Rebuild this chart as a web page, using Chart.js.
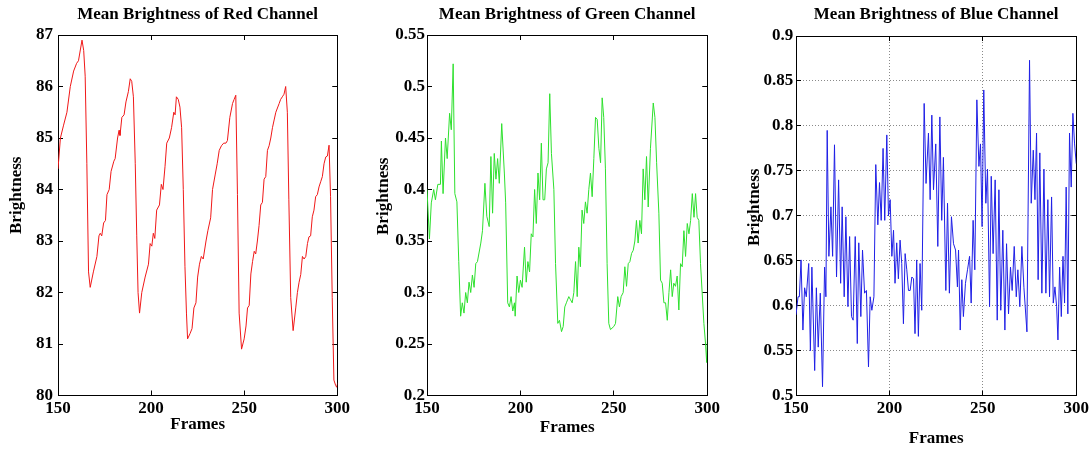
<!DOCTYPE html>
<html>
<head>
<meta charset="utf-8">
<script src="https://cdn.jsdelivr.net/npm/chart.js@4/dist/chart.umd.min.js"></script>
<style>
html,body{margin:0;padding:0;background:#fff;}
body{width:1090px;height:452px;position:relative;overflow:hidden;}
.box{position:absolute;top:0;height:452px;}
</style>
</head>
<body>
<div class="box" style="left:0px;width:358px"><canvas id="cRed"></canvas></div>
<div class="box" style="left:365px;width:363px"><canvas id="cGreen"></canvas></div>
<div class="box" style="left:735px;width:362px"><canvas id="cBlue"></canvas></div>
<script>
// ---- data ----
const xTicks = [150, 200, 250, 300];
const redYTicks = [80, 81, 82, 83, 84, 85, 86, 87];
const greenYTicks = [0.2, 0.25, 0.3, 0.35, 0.4, 0.45, 0.5, 0.55];
const blueYTicks = [0.5, 0.55, 0.6, 0.65, 0.7, 0.75, 0.8, 0.85, 0.9];

const redFrames = [150,151.3,153,154.8,156.6,158.4,160,161,162.9,163.8,164.6,165.5,166.4,167.3,169,170.9,172,172.7,173.5,174.5,175.5,176.3,177.5,178.5,180,180.7,182,182.8,183.3,184.3,185.5,186.5,187.8,188.8,189.6,190.5,191.5,192.3,193,193.8,195,196.8,198.6,199.5,200.4,201.2,202,203,204.5,205.5,206.4,207.5,208.4,209.8,211,212.2,212.9,213.6,214.6,215.5,216.4,217.3,218.2,219,219.6,220.9,222,223,224.1,225,226,227,228,229.5,230.5,232,233,234.5,235.5,236.6,237.8,239,240.2,241,242.3,243.75,244.6,245.5,246.4,247.3,248.6,250,251,251.8,252.7,253.6,254.5,255.4,256.2,257.1,258,258.9,259.8,260.7,261.6,262.5,263.4,264.3,265.2,266.1,267,268.8,269.6,270.5,271.4,272.3,273.2,274,275,276.3,277.7,278.6,279.5,280.4,281.3,282.2,283.1,284,284.8,285.7,286.6,287.5,288.4,289.3,290.2,291.1,292,292.9,293.8,294.7,295.6,296.4,297.3,298.2,299.1,299.7,300.3];
const redValues = [84.4,85.0,85.25,85.5,86.0,86.3,86.45,86.5,86.9,86.7,86.2,84.5,82.4,82.1,82.4,82.7,83.1,83.15,83.1,83.35,83.4,83.9,84.0,84.35,84.55,84.6,85.0,85.15,85.05,85.4,85.45,85.7,85.9,86.15,86.1,85.8,84.5,83.1,82.0,81.6,82.0,82.3,82.55,82.95,82.9,83.15,83.05,83.6,83.7,84.1,84.0,84.45,84.9,85.0,85.2,85.5,85.45,85.8,85.75,85.6,85.2,84.0,82.5,81.6,81.1,81.2,81.3,81.7,81.8,82.3,82.55,82.7,82.65,83.0,83.2,83.45,84.0,84.3,84.5,84.76,84.85,84.9,84.9,84.95,85.4,85.67,85.75,85.83,83.9,81.6,80.9,81.1,81.35,81.7,81.75,82.36,82.6,82.8,82.75,83.0,83.3,83.7,83.75,84.2,84.25,84.76,84.85,85.0,85.2,85.35,85.5,85.67,85.75,85.8,85.85,86.0,85.5,83.8,81.9,81.26,81.7,82.0,82.2,82.35,82.7,82.65,82.7,82.95,83.08,83.1,83.47,83.6,83.86,83.9,84.05,84.15,84.25,84.5,84.63,84.65,84.86,83.86,81.9,80.3,80.2,80.16,80.25];

const greenFrames = [150,151.3,152.3,153.6,154.5,155.8,157.2,157.7,158.6,159.9,160.8,162.1,163,164,164.9,166,167,168,168.9,169.8,170.7,171.6,172.5,173.4,174.3,175.2,176.1,177,178.8,179.7,181,182,183.3,184.2,185.1,186,186.9,187.8,188.7,190,191.4,192.1,193.2,194.1,195,195.9,196.8,197.2,198.2,199.1,200,200.9,202.2,203.1,204,204.9,205.8,206.7,207.6,208.5,209.4,210.3,211.2,212.1,213,213.9,214.8,215.7,216.6,217.9,218.8,220,220.9,222,222.9,223.75,224.6,225.9,226.8,227.7,228.6,229.5,230.4,231.25,232.1,233,233.9,234.8,235.7,236.6,237.5,238.4,239.3,240.2,241.1,242,242.9,243.75,244.6,245.5,246.4,247.3,248.2,250,250.9,252.1,253,253.9,255,255.9,256.8,257.7,258.6,259.5,260.4,261.25,262.1,263,263.9,264.8,265.7,266.6,267.5,268.4,269.6,271.1,272,272.9,274.1,275,275.9,276.8,277.7,278.6,279.5,280.4,281.25,282.1,283,283.9,284.8,285.7,286.6,287.5,288.4,289.3,290.2,291.1,292,292.9,293.75,294.6,295.5,296.4,298.2,299.1,299.7,300.4];
const greenValues = [0.40,0.352,0.387,0.40,0.39,0.405,0.405,0.447,0.396,0.45,0.43,0.474,0.458,0.522,0.396,0.388,0.33,0.277,0.29,0.28,0.30,0.29,0.31,0.30,0.317,0.305,0.328,0.33,0.348,0.36,0.406,0.374,0.364,0.432,0.377,0.435,0.41,0.43,0.406,0.464,0.416,0.387,0.29,0.286,0.296,0.282,0.29,0.277,0.316,0.30,0.312,0.305,0.344,0.31,0.33,0.32,0.357,0.354,0.40,0.367,0.416,0.39,0.445,0.39,0.39,0.42,0.426,0.493,0.435,0.40,0.328,0.27,0.273,0.262,0.267,0.286,0.29,0.296,0.293,0.29,0.30,0.33,0.296,0.344,0.325,0.38,0.367,0.388,0.377,0.40,0.416,0.393,0.43,0.47,0.468,0.44,0.426,0.489,0.47,0.42,0.328,0.27,0.264,0.267,0.27,0.296,0.286,0.296,0.30,0.325,0.306,0.328,0.33,0.338,0.341,0.35,0.37,0.348,0.37,0.357,0.42,0.39,0.432,0.383,0.44,0.484,0.47,0.426,0.377,0.312,0.309,0.29,0.29,0.273,0.30,0.322,0.296,0.309,0.306,0.316,0.283,0.328,0.325,0.36,0.335,0.367,0.357,0.37,0.396,0.373,0.396,0.373,0.37,0.328,0.27,0.25,0.232,0.27];

const blueFrames = [150,151.1,151.8,152.7,153.7,154.6,155.5,156.8,157.7,158.5,160,160.9,161.9,163,164.2,165.3,166,166.7,167.6,168.7,169.6,170.6,171.7,172.8,173.9,174.7,175.8,176.7,177.8,178.7,179.7,180.6,181.7,182.8,183.6,184.7,185.6,186.7,187.7,188.8,189.7,190.6,191.7,192.7,193.8,194.7,195.6,196.6,197.5,198.6,199.5,200.4,201.3,202.2,203,203.9,204.8,205.7,206.6,207.5,208.4,209.3,210.2,211.1,212,212.9,213.7,214.6,215.5,216.4,217.3,218.6,219.6,220.9,221.8,222.7,223.6,224.8,225.9,227,228,228.9,230.2,231.1,232.1,233.2,234.3,235.4,236.4,237,237.9,238.75,239.6,240.7,241.8,242.9,243.75,244.8,245.7,246.8,247.9,248.75,249.6,250.5,251.6,252.5,253.6,254.5,255.5,256.6,257.7,258.6,259.6,260.7,261.8,262.7,263.75,264.8,265.7,266.8,267.9,268.75,269.8,270.9,272,273.6,275,275.9,277,277.9,278.75,279.6,280.5,281.6,282.7,283.75,284.8,285.7,286.8,287.7,288.6,289.5,290.2,291.1,292,292.9,293.75,294.6,295.5,296.4,297.3,298.2,299.1,300];
const blueValues = [0.59,0.61,0.61,0.651,0.573,0.62,0.61,0.647,0.55,0.643,0.528,0.62,0.554,0.614,0.51,0.643,0.61,0.795,0.655,0.71,0.655,0.779,0.632,0.74,0.625,0.71,0.61,0.699,0.599,0.677,0.588,0.584,0.677,0.558,0.67,0.588,0.662,0.614,0.617,0.532,0.61,0.595,0.61,0.757,0.69,0.737,0.695,0.775,0.695,0.79,0.70,0.718,0.655,0.684,0.625,0.67,0.63,0.673,0.647,0.58,0.658,0.64,0.617,0.617,0.632,0.63,0.569,0.651,0.566,0.647,0.595,0.825,0.736,0.792,0.718,0.812,0.729,0.78,0.666,0.81,0.695,0.765,0.617,0.714,0.614,0.699,0.669,0.662,0.621,0.662,0.573,0.629,0.588,0.625,0.64,0.655,0.603,0.695,0.64,0.829,0.755,0.78,0.688,0.84,0.714,0.752,0.599,0.744,0.658,0.74,0.584,0.729,0.595,0.684,0.573,0.669,0.591,0.643,0.617,0.666,0.61,0.64,0.599,0.666,0.62,0.571,0.873,0.714,0.773,0.718,0.792,0.629,0.77,0.614,0.752,0.614,0.718,0.61,0.721,0.603,0.621,0.599,0.562,0.643,0.588,0.655,0.603,0.732,0.591,0.792,0.732,0.814,0.78,0.758];

// ---- drawing ----
const FONT = "'Liberation Serif', 'Times New Roman', serif";
const tickFont = {family: FONT, size: 17, weight: 'bold', lineHeight: 1.2};
const titleFont = {family: FONT, size: 17, weight: 'bold', lineHeight: 1.2};

function setTicks(arr) { return s => { s.ticks = arr.map(v => ({value: v})); }; }
function fmt(v) { return String(Math.round(v * 100) / 100); }

// y-axis title, placed like the original (slightly above the centre of the axis)
const yLabelPlugin = {
  id: 'yLabel',
  afterDraw(chart, args, opts) {
    const ca = chart.chartArea, ctx = chart.ctx;
    ctx.save();
    ctx.translate(opts.x, (ca.top + ca.bottom) / 2 + opts.dy);
    ctx.rotate(-Math.PI / 2);
    ctx.font = 'bold 17px ' + FONT;
    ctx.fillStyle = '#000';
    ctx.textAlign = 'center';
    ctx.textBaseline = 'middle';
    ctx.fillText(opts.text, 0, 0);
    ctx.restore();
  }
};

function makeChart(id, o) {
  const edgeGrid = {display: true, drawOnChartArea: false, drawTicks: true, tickLength: -5, tickColor: '#000', tickWidth: 1};
  const mainGrid = o.grid
    ? {display: true, drawOnChartArea: true, drawTicks: true, tickLength: -5, color: '#8a8a8a', lineWidth: 1, tickColor: '#000', tickWidth: 1}
    : edgeGrid;
  const border = {display: true, color: '#000', width: 1, dash: o.grid ? [1, 2] : []};
  new Chart(document.getElementById(id), {
    type: 'line',
    data: {
      datasets: [{
        data: o.frames.map((f, i) => ({x: f, y: o.values[i]})),
        borderColor: o.color, borderWidth: 1, pointRadius: 0, tension: 0, fill: false
      }]
    },
    plugins: [yLabelPlugin],
    options: {
      responsive: true, maintainAspectRatio: false, animation: false, devicePixelRatio: 1,
      layout: {padding: 0},
      plugins: {
        legend: {display: false}, tooltip: {enabled: false},
        title: {display: true, text: o.title, fullSize: false, color: '#000', font: titleFont,
                padding: {top: 4.8, bottom: o.titleBottom}},
        yLabel: {text: 'Brightness', x: o.yTitleX, dy: o.yTitleDy}
      },
      scales: {
        x: {
          type: 'linear', position: 'bottom', min: 150, max: 300,
          afterBuildTicks: setTicks(xTicks), afterFit: s => { s.height = o.xH; },
          ticks: {color: '#000', font: tickFont, padding: 8, maxRotation: 0, autoSkip: false, callback: v => String(v)},
          grid: mainGrid, border: border,
          title: {display: true, text: 'Frames', color: '#000', font: titleFont, padding: {top: 0, bottom: o.xTitleBottom}}
        },
        x2: {
          type: 'linear', position: 'top', min: 150, max: 300,
          afterBuildTicks: setTicks(xTicks), afterFit: s => { s.height = 0; },
          ticks: {display: false}, grid: edgeGrid, border: {display: true, color: '#000', width: 1}
        },
        y: {
          type: 'linear', position: 'left', min: o.yMin, max: o.yMax,
          afterBuildTicks: setTicks(o.yTicks), afterFit: s => { s.width = o.yW; },
          ticks: {color: '#000', font: tickFont, padding: o.yPad, autoSkip: false, callback: v => fmt(v)},
          grid: mainGrid, border: border
        },
        y2: {
          type: 'linear', position: 'right', min: o.yMin, max: o.yMax,
          afterBuildTicks: setTicks(o.yTicks), afterFit: s => { s.width = 0; },
          ticks: {display: false}, grid: edgeGrid, border: {display: true, color: '#000', width: 1}
        }
      }
    }
  });
}

makeChart('cRed', {
  title: 'Mean Brightness of Red Channel', frames: redFrames, values: redValues, color: '#f01818',
  yMin: 80, yMax: 87, yTicks: redYTicks, grid: false,
  yW: 58, yPad: 10, yTitleX: 17, yTitleDy: -20, titleBottom: 9.8, xH: 56.5, xTitleBottom: 16.8
});
makeChart('cGreen', {
  title: 'Mean Brightness of Green Channel', frames: greenFrames, values: greenValues, color: '#2ee02e',
  yMin: 0.2, yMax: 0.55, yTicks: greenYTicks, grid: false,
  yW: 62, yPad: 7, yTitleX: 19, yTitleDy: -19, titleBottom: 9.8, xH: 56.5, xTitleBottom: 14.1
});
makeChart('cBlue', {
  title: 'Mean Brightness of Blue Channel', frames: blueFrames, values: blueValues, color: '#2020e6',
  yMin: 0.5, yMax: 0.9, yTicks: blueYTicks, grid: true,
  yW: 61, yPad: 7.7, yTitleX: 19.5, yTitleDy: -8.5, titleBottom: 10.8, xH: 56.3, xTitleBottom: 2.8
});
</script>
</body>
</html>
